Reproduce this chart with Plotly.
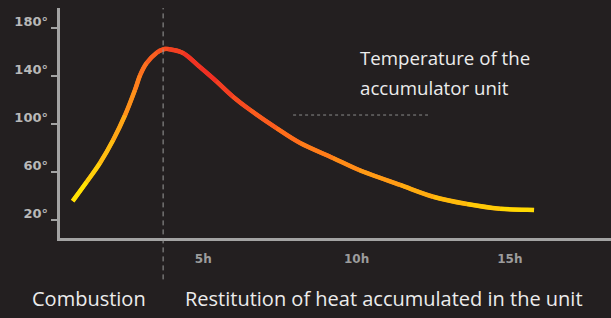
import plotly.graph_objects as go
from plotly.colors import sample_colorscale
import math

# Data (hours, temperature in °C)
hours = [0.74, 1.20, 1.63, 2.06, 2.45, 2.77, 2.94, 3.15, 3.48, 3.71, 3.85, 4.34, 4.89,
         5.44, 5.97, 6.53, 7.40, 8.16, 9.23, 10.08, 11.42, 12.50, 13.60, 14.68, 15.79]
temps = [35.8, 51.9, 67.5, 86.7, 107.5, 128.3, 140.8, 150.8, 159.4, 162.3, 162.5, 159.2, 147.5,
         135.3, 122.8, 111.7, 96.4, 84.2, 71.7, 61.7, 49.2, 39.4, 33.3, 29.4, 28.3]

y_tick_vals = [20, 60, 100, 140, 180]
y_tick_text = ["20°", "60°", "100°", "140°", "180°"]
x_tick_vals = [5, 10, 15]
x_tick_text = ["5h", "10h", "15h"]

combustion_end = 3.69
label_title = ["Temperature of the", "accumulator unit"]
label_phase1 = "Combustion"
label_phase2 = "Restitution of heat accumulated in the unit"

BG = "#231f20"
AX = "#a3a3a3"
Y_RANGE = [5, 196.7]
LABEL_LIFT = 5.8  # tick labels sit slightly above their tick marks

# colour along arc position
sx, sy = 30.65, 1.2
arc = [0.0]
for i in range(1, len(hours)):
    dx = (hours[i] - hours[i - 1]) * sx
    dy = (temps[i] - temps[i - 1]) * sy
    arc.append(arc[-1] + math.hypot(dx, dy))
tot = arc[-1]
scale = [[0.0, "#ffec00"], [0.12, "#ffb414"], [0.24, "#ff7a1e"], [0.33, "#f33a22"],
         [0.38, "#ee2a24"], [0.55, "#ff6a1c"], [0.75, "#ffa014"], [1.0, "#ffe000"]]

fig = go.Figure()
fig.add_trace(go.Scatter(x=hours, y=temps, mode="lines",
                         line=dict(color="#ff7a1e", width=4, shape="spline"),
                         hoverinfo="x+y", showlegend=False))
# invisible trace carrying the label axis
fig.add_trace(go.Scatter(x=[hours[0]], y=[temps[0]], yaxis="y2", mode="markers",
                         marker=dict(opacity=0), hoverinfo="skip", showlegend=False))

n = len(hours)
shapes = []
for i in range(n - 1):
    p0 = (hours[max(i - 1, 0)], temps[max(i - 1, 0)])
    p1 = (hours[i], temps[i])
    p2 = (hours[i + 1], temps[i + 1])
    p3 = (hours[min(i + 2, n - 1)], temps[min(i + 2, n - 1)])
    c1 = (p1[0] + (p2[0] - p0[0]) / 6, p1[1] + (p2[1] - p0[1]) / 6)
    c2 = (p2[0] - (p3[0] - p1[0]) / 6, p2[1] - (p3[1] - p1[1]) / 6)
    t = (arc[i] + arc[i + 1]) / 2 / tot
    col = sample_colorscale(scale, [t])[0]
    path = f"M {p1[0]},{p1[1]} C {c1[0]},{c1[1]} {c2[0]},{c2[1]} {p2[0]},{p2[1]}"
    shapes.append(dict(type="path", xref="x", yref="y", path=path,
                       line=dict(color=col, width=4.5), layer="above"))

fig.update_layout(
    width=611, height=318,
    paper_bgcolor=BG, plot_bgcolor=BG,
    margin=dict(l=60, r=0, t=8, b=80),
    showlegend=False,
    shapes=shapes,
    xaxis=dict(range=[0.326, 18.3], showgrid=False, zeroline=False, showline=True,
               linecolor=AX, linewidth=3, tickvals=x_tick_vals, ticktext=x_tick_text,
               ticks="", ticklabelstandoff=8,
               tickfont=dict(family="DejaVu Sans", size=12, color="#9c9c9c", weight="bold")),
    yaxis=dict(range=Y_RANGE, showgrid=False, zeroline=False, showline=True,
               linecolor=AX, linewidth=3, tickvals=y_tick_vals,
               ticks="outside", ticklen=6, tickwidth=2, tickcolor=AX, showticklabels=False),
    yaxis2=dict(range=[Y_RANGE[0] - LABEL_LIFT, Y_RANGE[1] - LABEL_LIFT], overlaying="y",
                side="left", showgrid=False, zeroline=False, showline=False,
                tickvals=y_tick_vals, ticktext=y_tick_text, ticks="", ticklabelstandoff=11,
                tickfont=dict(family="DejaVu Sans", size=13, color="#b8b8b8", weight="bold")),
)

fig.add_shape(type="line", xref="x", yref="paper", x0=combustion_end, x1=combustion_end,
              y0=-0.18, y1=1.0, line=dict(color="#9a9a9a", width=1, dash="5px,4px"))
fig.add_shape(type="line", xref="x", yref="y", x0=7.93, x1=12.33, y0=107.5, y1=107.5,
              line=dict(color="#8a8a8a", width=1, dash="3px,3px"))

def px_x(p):
    return (p - 60) / 551

def px_y(p):
    return (238 - p) / 230

titlefont = dict(family="Open Sans", size=18.7, color="#ececec")
bottomfont = dict(family="Open Sans", size=20, color="#ececec")
fig.add_annotation(x=px_x(358), y=px_y(58), xref="paper", yref="paper", text=label_title[0],
                   showarrow=False, xanchor="left", yanchor="middle", font=titlefont)
fig.add_annotation(x=px_x(358), y=px_y(87), xref="paper", yref="paper", text=label_title[1],
                   showarrow=False, xanchor="left", yanchor="middle", font=titlefont)
fig.add_annotation(x=px_x(88.5), y=px_y(298), xref="paper", yref="paper", text=label_phase1,
                   showarrow=False, xanchor="center", yanchor="middle", font=bottomfont)
fig.add_annotation(x=px_x(383.5), y=px_y(298), xref="paper", yref="paper", text=label_phase2,
                   showarrow=False, xanchor="center", yanchor="middle", font=bottomfont)

fig.write_html(
    "out.html",
    config={"displayModeBar": False},
    post_script=("document.documentElement.style.background='#231f20';"
                 "document.body.style.margin='0';"
                 "document.body.style.background='#231f20';"
                 "document.body.style.overflow='hidden';"),
)
